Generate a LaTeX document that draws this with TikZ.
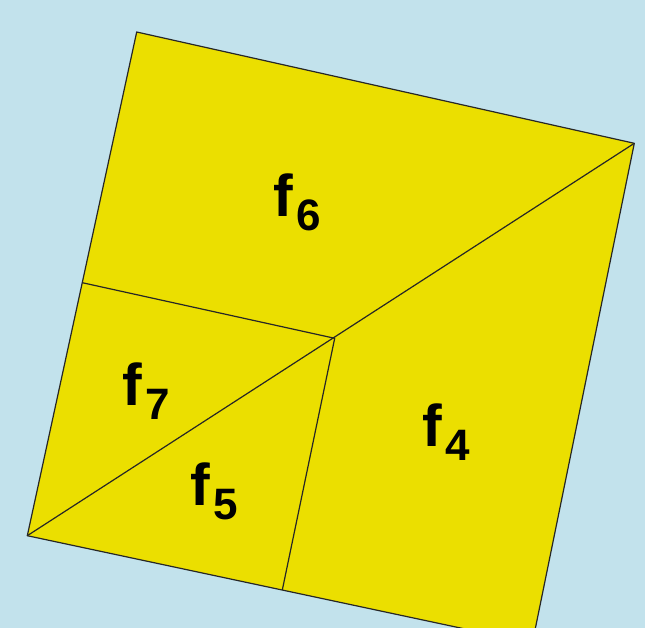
\documentclass[tikz,border=0pt]{standalone}
\usepackage{fontspec}
\setmainfont{Liberation Sans}
\definecolor{bg}{RGB}{194,226,236}
\definecolor{fy}{RGB}{235,223,0}
\newcommand\flab[1]{\fontsize{59}{59}\selectfont f\kern4pt\raisebox{-14pt}{\fontsize{44}{44}\selectfont #1}}
\begin{document}
\begin{tikzpicture}[x=1pt,y=-1pt,
  edge/.style={draw=black!85, line width=1.2pt, line join=round},
  lab/.style={anchor=base west, inner sep=0pt, font=\bfseries}]
\useasboundingbox (0,0) rectangle (645,628);
\fill[bg] (0,0) rectangle (645,628);
\clip (0,0) rectangle (645,628);
\coordinate (A) at (136.7,32);
\coordinate (B) at (634.3,143.3);
\coordinate (C) at (27.3,535.7);
\coordinate (D) at (532.3,643.3);
\coordinate (P) at (334.7,338.3);
\coordinate (L) at (82.3,282.7);
\coordinate (M) at (282.3,590);
\filldraw[fill=fy, edge] (A) -- (B) -- (D) -- (C) -- cycle;
\draw[edge] (C) -- (B);
\draw[edge] (L) -- (P) -- (M);
\node[lab] (f6) at (273,217) {\flab{6}};
\node[lab] (f7) at (122,405) {\flab{7}};
\node[lab] (f5) at (190,505) {\flab{5}};
\node[lab] (f4) at (422,446) {\flab{4}};
\end{tikzpicture}
\end{document}
